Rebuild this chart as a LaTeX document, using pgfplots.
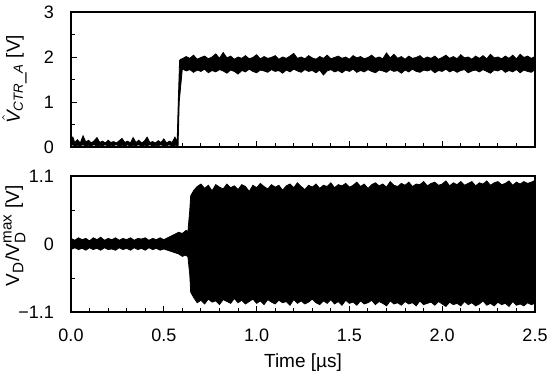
\documentclass[border=0pt]{standalone}
\usepackage{fontspec}
\setmainfont{Liberation Sans}
\usepackage{pgfplots}
\pgfplotsset{compat=1.18}
\newcommand{\smtxt}[1]{\mbox{\fontsize{7.6}{8}\selectfont #1}}
\begin{document}
\begin{tikzpicture}
\useasboundingbox (-35.5pt,-34.5pt) rectangle (239.5pt,156pt);
\pgfplotsset{
 common/.style={
  scale only axis, width=232pt,
  xmin=0, xmax=2.5,
  axis line style={line width=0.8pt},
  tick style={line width=0.5pt, black},
  tick align=inside, tick pos=left,
  major tick length=3pt, minor tick length=2pt,
  xtick={0,0.5,1,1.5,2,2.5}, minor x tick num=4,
  /pgf/number format/assume math mode=true,
  tick label style={font=\fontsize{9}{10}\selectfont},
  label style={font=\fontsize{9.5}{11}\selectfont},
  yticklabel style={xshift=-5pt},
  xticklabel style={yshift=-5pt, /pgf/number format/.cd, fixed, fixed zerofill, precision=1},
  ylabel style={at={(axis description cs:-0.122,0.5)}, anchor=center},
 }}
% ---------- top panel ----------
\begin{axis}[common, at={(0,82.5pt)}, height=67.5pt,
  ymin=0, ymax=3, ytick={0,1,2,3}, minor y tick num=1,
  xticklabels={},
  ylabel={$\hat{\mathit{V}}_{\mathit{CTR\_A}}$ [V]}]
\addplot[fill=black, draw=black, line width=0.4pt] coordinates {
(0,0.14) (0.01,0.22) (0.02,0.10) (0.035,0.16) (0.05,0.09) (0.065,0.25) (0.08,0.11)
(0.095,0.15) (0.11,0.09) (0.125,0.14) (0.14,0.21) (0.155,0.10) (0.17,0.13) (0.185,0.09)
(0.2,0.15) (0.215,0.10) (0.23,0.12) (0.245,0.09) (0.26,0.14) (0.275,0.19) (0.29,0.10)
(0.305,0.13) (0.32,0.09) (0.335,0.21) (0.35,0.10) (0.365,0.15) (0.38,0.09) (0.395,0.13)
(0.41,0.22) (0.425,0.10) (0.44,0.12) (0.455,0.09) (0.47,0.14) (0.485,0.10) (0.5,0.18)
(0.515,0.09) (0.53,0.13) (0.545,0.10) (0.56,0.22) (0.572,0.12)
(0.578,1.0) (0.585,1.92) (0.59,1.95)
(0.60,1.96) (0.62,2.01) (0.64,1.97) (0.66,2.04) (0.68,1.95) (0.70,1.99) (0.72,2.02) (0.74,1.96)
(0.76,2.00) (0.78,2.07) (0.80,1.97) (0.82,2.10) (0.84,1.98) (0.86,2.02) (0.88,1.95) (0.90,2.00)
(0.92,1.97) (0.94,2.03) (0.96,1.96) (0.98,1.99) (1.00,2.05) (1.02,1.96) (1.04,2.01) (1.06,1.97)
(1.08,1.99) (1.10,2.03) (1.12,1.95) (1.14,2.00) (1.16,1.97) (1.18,2.02) (1.20,2.08) (1.22,1.97)
(1.24,2.00) (1.26,1.96) (1.28,2.03) (1.30,1.98) (1.32,1.95) (1.34,2.01) (1.36,1.97) (1.38,2.04)
(1.40,1.96) (1.42,1.99) (1.44,2.02) (1.46,1.97) (1.48,2.00) (1.50,1.95) (1.52,2.03) (1.54,1.98)
(1.56,2.01) (1.58,1.96) (1.60,1.99) (1.62,2.04) (1.64,1.97) (1.66,2.00) (1.68,1.96) (1.70,2.09)
(1.72,1.98) (1.74,2.06) (1.76,1.97) (1.78,2.01) (1.80,1.95) (1.82,2.02) (1.84,1.97) (1.86,1.99)
(1.88,2.03) (1.90,1.96) (1.92,2.00) (1.94,1.97) (1.96,2.02) (1.98,1.95) (2.00,1.99) (2.02,2.04)
(2.04,1.97) (2.06,2.01) (2.08,1.96) (2.10,2.05) (2.12,1.98) (2.14,2.00) (2.16,1.95) (2.18,2.02)
(2.20,1.97) (2.22,2.03) (2.24,1.96) (2.26,2.06) (2.28,1.98) (2.30,2.00) (2.32,1.96) (2.34,2.02)
(2.36,1.97) (2.38,2.04) (2.40,1.96) (2.42,2.06) (2.44,1.99) (2.46,2.02) (2.48,1.97) (2.50,2.01)
(2.50,1.72) (2.48,1.66) (2.46,1.68) (2.44,1.71) (2.42,1.65) (2.40,1.72) (2.38,1.67) (2.36,1.70)
(2.34,1.66) (2.32,1.73) (2.30,1.69) (2.28,1.71) (2.26,1.64) (2.24,1.68) (2.22,1.72) (2.20,1.67)
(2.18,1.71) (2.16,1.69) (2.14,1.65) (2.12,1.72) (2.10,1.70) (2.08,1.66) (2.06,1.71) (2.04,1.67)
(2.02,1.73) (2.00,1.68) (1.98,1.70) (1.96,1.65) (1.94,1.72) (1.92,1.69) (1.90,1.71) (1.88,1.66)
(1.86,1.68) (1.84,1.73) (1.82,1.67) (1.80,1.71) (1.78,1.64) (1.76,1.70) (1.74,1.68) (1.72,1.72)
(1.70,1.66) (1.68,1.69) (1.66,1.71) (1.64,1.65) (1.62,1.68) (1.60,1.72) (1.58,1.67) (1.56,1.70)
(1.54,1.66) (1.52,1.73) (1.50,1.68) (1.48,1.71) (1.46,1.65) (1.44,1.70) (1.42,1.67) (1.40,1.72)
(1.38,1.69) (1.36,1.60) (1.34,1.71) (1.32,1.65) (1.30,1.70) (1.28,1.68) (1.26,1.72) (1.24,1.66)
(1.22,1.69) (1.20,1.73) (1.18,1.67) (1.16,1.71) (1.14,1.64) (1.12,1.70) (1.10,1.68) (1.08,1.72)
(1.06,1.66) (1.04,1.69) (1.02,1.71) (1.00,1.65) (0.98,1.68) (0.96,1.73) (0.94,1.67) (0.92,1.70)
(0.90,1.62) (0.88,1.68) (0.86,1.71) (0.84,1.64) (0.82,1.69) (0.80,1.72) (0.78,1.67) (0.76,1.70)
(0.74,1.65) (0.72,1.73) (0.70,1.68) (0.68,1.71) (0.66,1.66) (0.64,1.72) (0.62,1.69) (0.60,1.74)
(0.583,1.0) (0.577,0.03)
(0.56,0.04) (0.545,0.02) (0.53,0.05) (0.515,0.03) (0.5,0.02) (0.485,0.05) (0.47,0.03)
(0.455,0.04) (0.44,0.02) (0.425,0.05) (0.41,0.03) (0.395,0.04) (0.38,0.02) (0.365,0.05)
(0.35,0.03) (0.335,0.04) (0.32,0.02) (0.305,0.05) (0.29,0.03) (0.275,0.04) (0.26,0.02)
(0.245,0.05) (0.23,0.03) (0.215,0.04) (0.2,0.02) (0.185,0.05) (0.17,0.03) (0.155,0.04)
(0.14,0.02) (0.125,0.05) (0.11,0.03) (0.095,0.04) (0.08,0.02) (0.065,0.05) (0.05,0.03)
(0.035,0.04) (0.02,0.02) (0.01,0.05) (0,0.03)
} -- cycle;
\end{axis}
% ---------- bottom panel ----------
\begin{axis}[common, at={(0,0)}, height=68pt,
  ymin=-1.1, ymax=1.1, ytick={-1.1,0,1.1}, minor y tick num=1,
  yticklabels={−1.1,0,1.1},
  xlabel={Time [µs]},
  xlabel style={at={(axis description cs:0.5,0)}, anchor=center, yshift=-25.5pt},
  ylabel style={at={(axis description cs:-0.122,0.56)}},
  ylabel={V$_{\smtxt{D}}$/V$_{\smtxt{D}}^{\smtxt{max}}$ [V]}]
\addplot[fill=black, draw=black, line width=0.4pt] coordinates {
(0,0.09) (0.02,0.06) (0.04,0.10) (0.06,0.07) (0.08,0.09) (0.10,0.05) (0.12,0.10)
(0.14,0.07) (0.16,0.11) (0.18,0.06) (0.20,0.09) (0.22,0.07) (0.24,0.10) (0.26,0.06)
(0.28,0.09) (0.30,0.07) (0.32,0.10) (0.34,0.06) (0.36,0.09) (0.38,0.08) (0.40,0.10)
(0.42,0.06) (0.44,0.09) (0.46,0.07) (0.48,0.10) (0.50,0.07) (0.52,0.10) (0.54,0.13)
(0.56,0.16) (0.58,0.19) (0.60,0.17) (0.62,0.22) (0.63,0.20) (0.64,0.55) (0.645,0.78)
(0.66,0.86)
(0.68,0.93) (0.70,0.97) (0.72,0.90) (0.74,0.95) (0.76,0.86) (0.78,0.96) (0.80,0.92) (0.82,0.89)
(0.84,0.97) (0.86,0.91) (0.88,0.94) (0.90,0.88) (0.92,0.96) (0.94,0.93) (0.96,0.85) (0.98,0.95)
(1.00,0.91) (1.02,0.98) (1.04,0.93) (1.06,0.89) (1.08,0.96) (1.10,0.92) (1.12,0.95) (1.14,0.87)
(1.16,0.94) (1.18,0.97) (1.20,0.91) (1.22,0.99) (1.24,0.93) (1.26,0.88) (1.28,0.95) (1.30,0.92)
(1.32,0.97) (1.34,0.90) (1.36,0.95) (1.38,0.93) (1.40,0.99) (1.42,0.91) (1.44,0.96) (1.46,0.94)
(1.48,0.98) (1.50,0.92) (1.52,0.95) (1.54,1.00) (1.56,0.93) (1.58,0.97) (1.60,0.90) (1.62,0.96)
(1.64,0.99) (1.66,0.94) (1.68,0.97) (1.70,0.92) (1.72,1.01) (1.74,0.95) (1.76,0.93) (1.78,0.98)
(1.80,0.95) (1.82,1.00) (1.84,0.93) (1.86,0.97) (1.88,0.96) (1.90,1.01) (1.92,0.94) (1.94,0.98)
(1.96,1.00) (1.98,0.95) (2.00,0.97) (2.02,1.02) (2.04,0.94) (2.06,0.99) (2.08,0.96) (2.10,1.01)
(2.12,0.95) (2.14,0.98) (2.16,1.01) (2.18,0.94) (2.20,0.99) (2.22,0.97) (2.24,1.02) (2.26,0.95)
(2.28,0.99) (2.30,1.01) (2.32,0.96) (2.34,0.98) (2.36,1.02) (2.38,0.95) (2.40,1.00) (2.42,0.97)
(2.44,1.01) (2.46,0.98) (2.48,1.00) (2.50,1.03)
(2.50,-0.96) (2.48,-0.98) (2.46,-0.95) (2.44,-1.00)
(2.42,-0.97) (2.40,-0.99) (2.38,-0.93) (2.36,-1.01) (2.34,-0.96) (2.32,-0.98) (2.30,-0.94) (2.28,-1.00)
(2.26,-0.96) (2.24,-0.99) (2.22,-0.92) (2.20,-0.97) (2.18,-1.00) (2.16,-0.95) (2.14,-0.98) (2.12,-0.93)
(2.10,-1.00) (2.08,-0.96) (2.06,-0.98) (2.04,-0.94) (2.02,-1.01) (2.00,-0.97) (1.98,-0.93) (1.96,-0.99)
(1.94,-0.94) (1.92,-0.96) (1.90,-0.98) (1.88,-0.92) (1.86,-1.00) (1.84,-0.95) (1.82,-0.97) (1.80,-0.93)
(1.78,-0.99) (1.76,-0.95) (1.74,-0.97) (1.72,-0.92) (1.70,-1.00) (1.68,-0.96) (1.66,-0.93) (1.64,-0.98)
(1.62,-0.91) (1.60,-0.95) (1.58,-0.97) (1.56,-0.92) (1.54,-0.99) (1.52,-0.94) (1.50,-0.96) (1.48,-0.91)
(1.46,-0.99) (1.44,-0.93) (1.42,-0.97) (1.40,-0.90) (1.38,-0.96) (1.36,-0.92) (1.34,-0.98) (1.32,-0.95)
(1.30,-0.89) (1.28,-0.94) (1.26,-0.97) (1.24,-0.92) (1.22,-0.96) (1.20,-0.90) (1.18,-0.99) (1.16,-0.93)
(1.14,-0.95) (1.12,-0.91) (1.10,-0.97) (1.08,-0.94) (1.06,-0.90) (1.04,-0.98) (1.02,-0.92) (1.00,-0.96)
(0.98,-0.89) (0.96,-0.93) (0.94,-0.97) (0.92,-0.91) (0.90,-0.95) (0.88,-0.88) (0.86,-0.96) (0.84,-0.93)
(0.82,-0.90) (0.80,-0.98) (0.78,-0.92) (0.76,-0.94) (0.74,-0.89) (0.72,-0.97) (0.70,-0.91) (0.68,-0.95)
(0.66,-0.86) (0.645,-0.78) (0.64,-0.50) (0.63,-0.21) (0.62,-0.18) (0.60,-0.20)
(0.58,-0.16) (0.56,-0.14) (0.54,-0.12) (0.52,-0.10) (0.50,-0.08) (0.48,-0.10)
(0.46,-0.07) (0.44,-0.09) (0.42,-0.06) (0.40,-0.10) (0.38,-0.07) (0.36,-0.09)
(0.34,-0.06) (0.32,-0.10) (0.30,-0.07) (0.28,-0.09) (0.26,-0.06) (0.24,-0.10)
(0.22,-0.08) (0.20,-0.09) (0.18,-0.06) (0.16,-0.10) (0.14,-0.07) (0.12,-0.09)
(0.10,-0.06) (0.08,-0.10) (0.06,-0.07) (0.04,-0.09) (0.02,-0.06) (0,-0.09)
} -- cycle;
\end{axis}
\end{tikzpicture}
\end{document}
